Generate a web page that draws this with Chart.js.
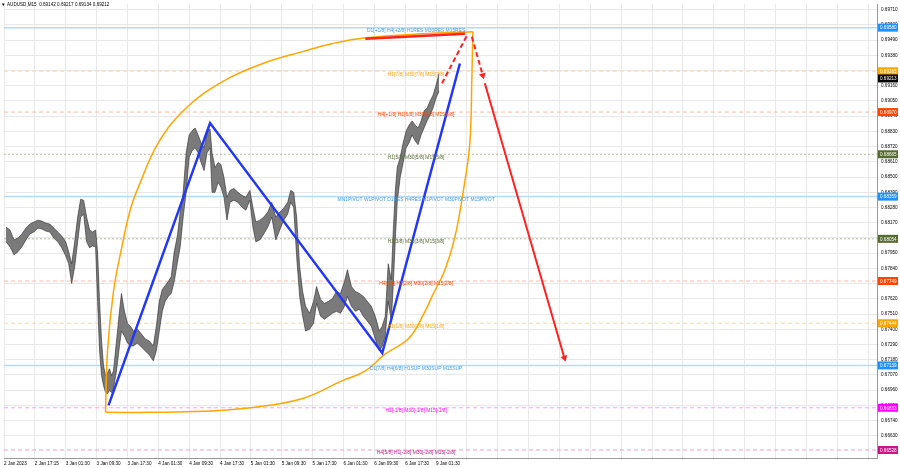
<!DOCTYPE html>
<html>
<head>
<meta charset="utf-8">
<script src="https://cdn.jsdelivr.net/npm/chart.js@4.4.0/dist/chart.umd.min.js"></script>
<style>
html, body { margin: 0; padding: 0; background: #fff; }
#wrap { width: 900px; height: 468px; }
</style>
</head>
<body>
<div id="wrap"><canvas id="myChart" width="900" height="468"></canvas></div>
<script>
const symbolTitle = 'AUDUSD,M15  0.69142 0.69217 0.69134 0.69212'
const lastPrice = 0.69213

// M15 bar number (roughly one bar per pixel) with high / low
const bars = [
	2, 6, 10, 14, 18, 22, 26, 30, 34, 38,
	42, 46, 50, 54, 58, 62, 65, 68, 71, 74,
	77, 80, 83, 86, 89, 92, 94, 96, 98, 100,
	102, 104, 106, 108, 110, 113, 116, 118, 121, 124,
	127, 130, 134, 138, 142, 146, 150, 153, 156, 159,
	162, 165, 168, 171, 174, 177, 180, 183, 186, 189,
	192, 195, 198, 201, 204, 207, 209, 212, 215, 218,
	221, 224, 227, 231, 235, 239, 243, 247, 250, 253,
	257, 261, 265, 269, 273, 277, 281, 285, 288, 291,
	294, 297, 300, 303, 307, 311, 314, 318, 322, 326,
	330, 334, 338, 342, 345, 349, 353, 357, 361, 365,
	369, 373, 377, 380, 383, 386, 389, 391, 393, 395,
	398, 401, 404, 407, 410, 413, 416, 419, 422, 425,
	428, 431, 434, 437
]
const highs = [
	0.68139, 0.68118, 0.68046, 0.68060, 0.68089, 0.68132, 0.68161, 0.68175, 0.68189, 0.68182,
	0.68168, 0.68161, 0.68132, 0.68103, 0.68075, 0.68032, 0.67960, 0.67874, 0.68032, 0.68211,
	0.68340, 0.68333, 0.68211, 0.68118, 0.68103, 0.68118, 0.67960, 0.67602, 0.67315, 0.67136,
	0.67065, 0.67086, 0.67115, 0.67065, 0.67100, 0.67315, 0.67530, 0.67659, 0.67530, 0.67444,
	0.67423, 0.67387, 0.67401, 0.67366, 0.67330, 0.67315, 0.67280, 0.67423, 0.67602, 0.67688,
	0.67717, 0.67745, 0.67781, 0.67960, 0.68068, 0.68247, 0.68390, 0.68676, 0.68805, 0.68834,
	0.68855, 0.68805, 0.68748, 0.68712, 0.68820, 0.68848, 0.68676, 0.68569, 0.68605, 0.68590,
	0.68497, 0.68354, 0.68404, 0.68418, 0.68390, 0.68368, 0.68354, 0.68404, 0.68282, 0.68175,
	0.68189, 0.68211, 0.68247, 0.68318, 0.68211, 0.68247, 0.68275, 0.68318, 0.68404, 0.68390,
	0.68211, 0.67853, 0.67674, 0.67566, 0.67516, 0.67602, 0.67709, 0.67616, 0.67588, 0.67602,
	0.67623, 0.67674, 0.67659, 0.67745, 0.67831, 0.67709, 0.67674, 0.67659, 0.67638, 0.67602,
	0.67566, 0.67494, 0.67387, 0.67423, 0.67494, 0.67874, 0.67760, 0.68103, 0.68390, 0.68569,
	0.68641, 0.68748, 0.68834, 0.68877, 0.68906, 0.68877, 0.68855, 0.68906, 0.68977, 0.68999,
	0.69049, 0.69092, 0.69163, 0.69249
]
const lows = [
	0.68032, 0.67996, 0.67939, 0.67960, 0.67996, 0.68046, 0.68089, 0.68103, 0.68132, 0.68125,
	0.68110, 0.68103, 0.68060, 0.68032, 0.67989, 0.67931, 0.67874, 0.67731, 0.67853, 0.68032,
	0.68211, 0.68232, 0.68032, 0.67989, 0.68003, 0.67996, 0.67602, 0.67244, 0.67065, 0.66993,
	0.66943, 0.66936, 0.66957, 0.66943, 0.66972, 0.67100, 0.67280, 0.67387, 0.67351, 0.67301,
	0.67280, 0.67280, 0.67301, 0.67272, 0.67244, 0.67215, 0.67172, 0.67244, 0.67387, 0.67530,
	0.67602, 0.67638, 0.67659, 0.67745, 0.67874, 0.67996, 0.68211, 0.68390, 0.68641, 0.68691,
	0.68712, 0.68676, 0.68605, 0.68547, 0.68676, 0.68712, 0.68390, 0.68390, 0.68462, 0.68426,
	0.68354, 0.68189, 0.68318, 0.68333, 0.68318, 0.68282, 0.68261, 0.68333, 0.68139, 0.68032,
	0.68046, 0.68089, 0.68139, 0.68211, 0.68046, 0.68118, 0.68189, 0.68232, 0.68318, 0.68282,
	0.67924, 0.67638, 0.67494, 0.67387, 0.67401, 0.67444, 0.67588, 0.67494, 0.67473, 0.67494,
	0.67516, 0.67530, 0.67516, 0.67566, 0.67638, 0.67566, 0.67530, 0.67545, 0.67494, 0.67459,
	0.67423, 0.67330, 0.67244, 0.67280, 0.67351, 0.67602, 0.67459, 0.67709, 0.68032, 0.68318,
	0.68497, 0.68605, 0.68712, 0.68748, 0.68805, 0.68762, 0.68734, 0.68805, 0.68855, 0.68906,
	0.68949, 0.68999, 0.69070, 0.69120
]

// time axis
const tickBars = [0, 31, 62, 93, 124, 155, 186, 217, 248, 279, 310, 341, 372, 403, 434]
const tickLabels = ['2 Jan 2023', '2 Jan 17:15', '3 Jan 01:30', '3 Jan 09:30', '3 Jan 17:30', '4 Jan 01:30', '4 Jan 09:30',
	'4 Jan 17:30', '5 Jan 01:30', '5 Jan 09:30', '5 Jan 17:30', '6 Jan 01:30', '6 Jan 09:30', '6 Jan 17:30', '9 Jan 01:30']
const lastBar = 877

// price axis
const priceTicks = [0.66630, 0.66740, 0.66850, 0.66960, 0.67070, 0.67180, 0.67290, 0.67400, 0.67510, 0.67620,
	0.67730, 0.67840, 0.67950, 0.68060, 0.68170, 0.68280, 0.68390, 0.68500, 0.68610, 0.68720,
	0.68830, 0.68940, 0.69050, 0.69160, 0.69270, 0.69380, 0.69490, 0.69600, 0.69710]

// murrey levels
const levelPrices = [0.69580, 0.69265, 0.68970, 0.68665, 0.68359, 0.68054, 0.67749, 0.67444, 0.67139, 0.66833, 0.66528]
const levelTags = ['0.69580', '0.69265', '0.68970', '0.68665', '0.68359', '0.68054', '0.67749', '0.67444', '0.67139', '0.66833', '0.66528']
const levelTexts = [
	'D1[+1/8] H4[+2/8] H1RES M30RES M15RES',
	'H1[7/8] M30[7/8] M15[7/8]',
	'H4[+1/8] H1[6/8] M30[6/8] M15[6/8]',
	'H1[5/8] M30[5/8] M15[5/8]',
	'MN1PIVOT W1PIVOT D1RES H4RES H1PIVOT M30PIVOT M15PIVOT',
	'H1[3/8] M30[3/8] M15[3/8]',
	'H4[7/8] H1[2/8] M30[2/8] M15[2/8]',
	'H1[1/8] M30[1/8] M15[1/8]',
	'D1[7/8] H4[6/8] H1SUP M30SUP M15SUP',
	'H1[-1/8] M30[-1/8] M15[-1/8]',
	'H4[5/8] H1[-2/8] M30[-2/8] M15[-2/8]'
]
const levelKinds = ['blue', 'orange', 'red', 'olive', 'blue', 'olive', 'red', 'orange', 'blue', 'magenta', 'pink']
const levelTextBar = 414

const kindStyle = {
	blue: {line: '#b3dbf7', text: '#3d9be9', tag: '#1e90ff', dash: [], width: 1.5},
	orange: {line: '#ffd9a6', text: '#ffa500', tag: '#ffa500', dash: [4, 3], width: 1},
	red: {line: '#ffb8a6', text: '#ff4500', tag: '#ff4500', dash: [4, 3], width: 1},
	olive: {line: '#b4bc9c', text: '#556b2f', tag: '#556b2f', dash: [2, 2], width: 1},
	magenta: {line: '#ff9cff', text: '#ff00ff', tag: '#ff00ff', dash: [4, 3], width: 1},
	pink: {line: '#eaa0c8', text: '#c71585', tag: '#c71585', dash: [4, 3], width: 1}
}

// hand drawn objects
const zigzagBars = [105, 207, 380, 458]
const zigzagPrices = [0.66850, 0.68891, 0.67229, 0.69321]

const arcTopBars = [102, 104, 110, 118, 127, 137, 155, 183, 220, 260, 300, 330, 363, 420, 471]
const arcTopPrices = [0.66800, 0.67244, 0.67674, 0.67981, 0.68268, 0.68462, 0.68748, 0.68999, 0.69192, 0.69321, 0.69407, 0.69465, 0.69507, 0.69536, 0.69550]
const arcLowBars = [102, 150, 200, 250, 300, 340, 363, 383, 407, 423, 430, 443, 453, 462, 468, 470, 471]
const arcLowPrices = [0.66800, 0.66800, 0.66807, 0.66835, 0.66900, 0.67029, 0.67100, 0.67222, 0.67337, 0.67530, 0.67638, 0.67831, 0.68068, 0.68426, 0.68748, 0.69213, 0.69550]

const redTopBars = [363, 463]
const redTopPrices = [0.69500, 0.69536]
const redUpBars = [440, 466]
const redUpPrices = [0.69178, 0.69536]
const redDownBars = [470, 481]
const redDownPrices = [0.69514, 0.69235]
const redLongBars = [483, 563]
const redLongPrices = [0.69178, 0.67193]

function pts(xs, ys){
	return xs.map((v, i) => ({x: v, y: ys[i]}))
}

function arrowRadius(ctx){
	return ctx.dataIndex === ctx.dataset.data.length - 1 ? 4 : 0
}

const fontFamily = '"Liberation Sans", Arial, sans-serif'
Chart.defaults.font.family = fontFamily
Chart.defaults.font.size = 4.6
Chart.defaults.color = '#000'

const datasets = [
	{data: pts(redDownBars, redDownPrices), borderColor: '#ff2020', borderWidth: 2, borderDash: [5, 3], order: 1,
		pointStyle: 'triangle', pointRadius: arrowRadius, pointRotation: 164, pointBackgroundColor: '#ff2020', pointBorderWidth: 0},
	{data: pts(redUpBars, redUpPrices), borderColor: '#ff2020', borderWidth: 2, borderDash: [5, 3], order: 1, pointRadius: 0},
	{data: pts(redLongBars, redLongPrices), borderColor: '#ff2020', borderWidth: 2, order: 1,
		pointStyle: 'triangle', pointRadius: arrowRadius, pointRotation: 164, pointBackgroundColor: '#ff2020', pointBorderWidth: 0},
	{data: pts(redTopBars, redTopPrices), borderColor: '#ff2020', borderWidth: 2.5, order: 1, pointRadius: 0},
	{data: pts(zigzagBars, zigzagPrices), borderColor: '#2437f5', borderWidth: 2.5, order: 2, pointRadius: 0},
	{data: pts(arcTopBars, arcTopPrices), borderColor: '#ffa500', borderWidth: 1.5, tension: 0.4, order: 3, pointRadius: 0},
	{data: pts(arcLowBars, arcLowPrices), borderColor: '#ffa500', borderWidth: 1.5, tension: 0.4, order: 3, pointRadius: 0},
	{data: pts(bars, highs), borderColor: '#2a2a2a', borderWidth: 0.6, order: 5, pointRadius: 0},
	{data: pts(bars, lows), borderColor: '#2a2a2a', borderWidth: 0.6, order: 5, pointRadius: 0, fill: '-1', backgroundColor: '#7a7a7a'}
]

levelPrices.forEach((p, i) => {
	const st = kindStyle[levelKinds[i]]
	datasets.push({data: [{x: 0, y: p}, {x: lastBar, y: p}], borderColor: st.line, borderWidth: st.width,
		borderDash: st.dash, order: 10, pointRadius: 0})
})

const mt4Overlay = {
	id: 'mt4Overlay',
	afterDatasetsDraw(chart){
		const {ctx, scales: {x, y}} = chart
		ctx.save()
		ctx.font = '4.9px ' + fontFamily
		ctx.textAlign = 'center'
		ctx.textBaseline = 'top'
		levelPrices.forEach((p, i) => {
			ctx.fillStyle = kindStyle[levelKinds[i]].text
			ctx.fillText(levelTexts[i], x.getPixelForValue(levelTextBar), y.getPixelForValue(p) + 0.5)
		})
		ctx.restore()
	},
	afterDraw(chart){
		const {ctx, chartArea, scales: {y}} = chart
		ctx.save()
		ctx.font = '4.6px ' + fontFamily
		ctx.textBaseline = 'middle'
		ctx.textAlign = 'left'
		const tags = levelPrices.map((p, i) => [p, levelTags[i], kindStyle[levelKinds[i]].tag])
		tags.push([lastPrice, lastPrice.toFixed(5), '#000'])
		tags.forEach(t => {
			const py = y.getPixelForValue(t[0])
			ctx.fillStyle = t[2]
			ctx.fillRect(chartArea.right + 1, py - 4, 20, 8)
			ctx.fillStyle = '#fff'
			ctx.fillText(t[1], chartArea.right + 3, py + 0.5)
		})
		// title
		ctx.fillStyle = '#000'
		ctx.fillText('\u25BC', 1, 4.5)
		ctx.fillText(symbolTitle, 7, 4.5)
		ctx.restore()
	}
}

const context = document.getElementById('myChart')
const config = {
	type: 'line',
	data: {datasets: datasets},
	options: {
		responsive: false,
		animation: false,
		layout: {padding: 0},
		plugins: {legend: {display: false}, tooltip: {enabled: false}},
		scales: {
			x: {
				type: 'linear',
				min: 0,
				max: lastBar,
				afterBuildTicks: axis => {
					const list = tickBars.slice()
					const step = tickBars[1] - tickBars[0]
					let v = tickBars[tickBars.length - 1] + step
					while (v < lastBar) { list.push(v); v += step }
					axis.ticks = list.map(e => ({value: e}))
				},
				afterFit: axis => {
					axis.height = 10
					axis.paddingLeft = 0
					axis.paddingRight = 0
				},
				ticks: {
					autoSkip: false,
					maxRotation: 0,
					align: 'start',
					padding: 1,
					callback: (value, index) => tickLabels[index] || ''
				},
				grid: {color: '#e8e8e8', tickLength: 2},
				border: {color: '#999'}
			},
			y: {
				position: 'right',
				min: 0.66470,
				max: 0.69751,
				afterBuildTicks: axis => {
					axis.ticks = priceTicks.map(e => ({value: e}))
				},
				afterFit: axis => {
					axis.width = 23
					axis.paddingTop = 0
					axis.paddingBottom = 0
				},
				ticks: {
					padding: 2,
					callback: value => value.toFixed(5)
				},
				grid: {color: '#e8e8e8', tickLength: 2},
				border: {color: '#999'}
			}
		}
	},
	plugins: [mt4Overlay]
}
const myChart = new Chart(context, config)
</script>
</body>
</html>
